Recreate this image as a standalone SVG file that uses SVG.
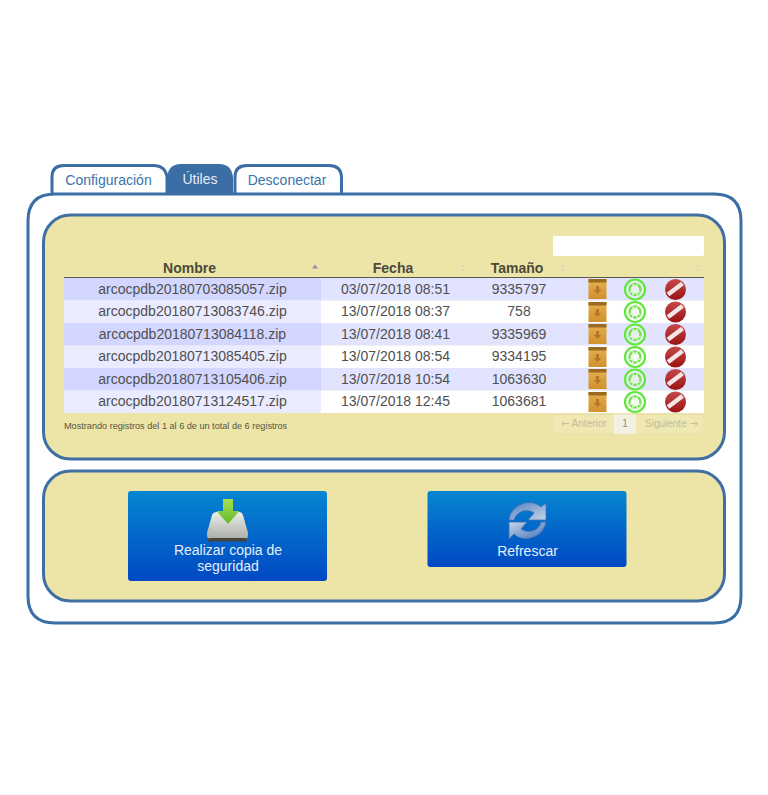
<svg xmlns="http://www.w3.org/2000/svg" xmlns:xlink="http://www.w3.org/1999/xlink" width="768" height="795" viewBox="0 0 768 795">
<style>
text{font-family:"Liberation Sans",Arial,sans-serif}
.tab{fill:#fff;stroke:#3a6ea5;stroke-width:3}
.panel{fill:#ede5a8;stroke:#3f6fa3;stroke-width:3}
.th{font-size:14px;font-weight:bold;fill:#4a4a3a;text-anchor:middle}
.td{font-size:14px;fill:#4f4f4f;text-anchor:middle}
.sort{fill:#dcd9bd}
.btn{font-size:14px;fill:#e6eefa;text-anchor:middle}
.pg{font-size:10px;fill:#bfbc9d}
.ar{font-family:"DejaVu Sans",sans-serif;font-size:10px}
</style>
<defs>
<linearGradient id="bg" x1="0" y1="0" x2="0" y2="1"><stop offset="0" stop-color="#0686d0"/><stop offset="1" stop-color="#0048c4"/></linearGradient>
<linearGradient id="box" x1="0" y1="0" x2="0" y2="1"><stop offset="0" stop-color="#e6b04e"/><stop offset="1" stop-color="#d0912e"/></linearGradient>
<linearGradient id="red" x1="0" y1="0" x2="0" y2="1"><stop offset="0" stop-color="#c44a4a"/><stop offset="1" stop-color="#9c1212"/></linearGradient>
<linearGradient id="disk" x1="0" y1="0" x2="0" y2="1"><stop offset="0" stop-color="#eceee8"/><stop offset="1" stop-color="#a9aca6"/></linearGradient>
<linearGradient id="arr" x1="0" y1="0" x2="0" y2="1"><stop offset="0" stop-color="#a8e050"/><stop offset="1" stop-color="#62ba2c"/></linearGradient>
<linearGradient id="rf" x1="0" y1="0" x2="1" y2="1"><stop offset="0" stop-color="#4f7fc0"/><stop offset="1" stop-color="#c6d6ea"/></linearGradient>
<linearGradient id="rf2" x1="1" y1="1" x2="0" y2="0"><stop offset="0" stop-color="#3f72b8"/><stop offset="1" stop-color="#c6d6ea"/></linearGradient>
<g id="ibox"><rect x="-9" y="-10" width="18" height="20" fill="url(#box)"/><rect x="-9" y="-10" width="18" height="3.500" fill="#9a6a20"/><path d="M-1.500-3h3v4h2.500l-4 4-4-4h2.500z" fill="#b5762a"/></g>
<g id="igreen"><circle r="10" fill="#f2fae6" fill-opacity=".45" stroke="#5fe83c" stroke-width="2.200"/><circle r="5.500" fill="none" stroke="#74e254" stroke-width="2.400"/><path d="M-2.500-5.500l2.500 3.500 2.500-3.500M-5.500 2.500l4-.5 -1 4M5.500 2.500l-4-.5 1 4" fill="none" stroke="#e2f6d6" stroke-width="1.300"/></g>
<g id="ired"><circle r="10.500" fill="url(#red)"/><path d="M-7.500 5L7 -6" stroke="#f4e6e6" stroke-width="4.500"/></g>
</defs>
<rect width="768" height="795" fill="#fff"/>
<g id="tabs">
<path id="tab-config" class="tab" d="M52 193V177Q52 165.500 64 165.500H153Q166 165.500 167 178V193"/>
<text x="108.500" y="184.500" font-size="14" fill="#3a74ad" text-anchor="middle">Configuración</text>
<path id="tab-utiles" d="M167 194V178Q168 164 181 164H219Q232 164 233 178V194Z" fill="#3a6ea5"/>
<text x="200" y="184" font-size="14" fill="#e4edf6" text-anchor="middle">Útiles</text>
<path id="tab-desc" class="tab" d="M235 193V177Q235 165.500 247 165.500H329Q341 165.500 341.500 177V193"/>
<text x="287" y="184.500" font-size="14" fill="#3a74ad" text-anchor="middle">Desconectar</text>
</g>
<path id="outer" d="M52 194H167M233 194H235M341 194H714Q741 194 741 221V596Q741 623 714 623H55Q28 623 28 596V221Q28 194 55 194Z" fill="none" stroke="#3a6ea5" stroke-width="3"/>
<rect id="panel-table" class="panel" x="43.500" y="215" width="681" height="244" rx="27"/>
<rect id="panel-actions" class="panel" x="43.500" y="471" width="681" height="130" rx="27"/>
<g id="table">
<rect x="553" y="236" width="151" height="20" rx="2" fill="#fff"/>
<text class="th" x="189.500" y="273">Nombre</text>
<text class="th" x="393" y="273">Fecha</text>
<text class="th" x="517" y="273">Tamaño</text>
<path d="M312 268.500l3-4 3 4z" fill="#8f8fc0"/>
<path class="sort" d="M461 267l2-2.500 2 2.500zM461 269l2 2.500 2-2.500zM561 267l2-2.500 2 2.500zM561 269l2 2.500 2-2.500zM696 267l2-2.500 2 2.500zM696 269l2 2.500 2-2.500z"/>
<rect x="64" y="278" width="640" height="22.500" fill="#e2e4ff"/>
<rect x="64" y="300.500" width="640" height="22.500" fill="#fff"/>
<rect x="64" y="323" width="640" height="22.500" fill="#e2e4ff"/>
<rect x="64" y="345.500" width="640" height="22.500" fill="#fff"/>
<rect x="64" y="368" width="640" height="22.500" fill="#e2e4ff"/>
<rect x="64" y="390.500" width="640" height="22.500" fill="#fff"/>
<rect x="64" y="278" width="257" height="22.500" fill="#d3d6ff"/>
<rect x="64" y="300.500" width="257" height="22.500" fill="#eaebff"/>
<rect x="64" y="323" width="257" height="22.500" fill="#d3d6ff"/>
<rect x="64" y="345.500" width="257" height="22.500" fill="#eaebff"/>
<rect x="64" y="368" width="257" height="22.500" fill="#d3d6ff"/>
<rect x="64" y="390.500" width="257" height="22.500" fill="#eaebff"/>
<line x1="64" y1="277.500" x2="704" y2="277.500" stroke="#5a5a48" stroke-width="1"/>
<g>
<text class="td" x="192.500" y="294">arcocpdb20180703085057.zip</text><text class="td" x="395.500" y="294">03/07/2018 08:51</text><text class="td" x="519" y="294">9335797</text>
<text class="td" x="192.500" y="316">arcocpdb20180713083746.zip</text><text class="td" x="395.500" y="316">13/07/2018 08:37</text><text class="td" x="519" y="316">758</text>
<text class="td" x="192.500" y="339">arcocpdb20180713084118.zip</text><text class="td" x="395.500" y="339">13/07/2018 08:41</text><text class="td" x="519" y="339">9335969</text>
<text class="td" x="192.500" y="361">arcocpdb20180713085405.zip</text><text class="td" x="395.500" y="361">13/07/2018 08:54</text><text class="td" x="519" y="361">9334195</text>
<text class="td" x="192.500" y="384">arcocpdb20180713105406.zip</text><text class="td" x="395.500" y="384">13/07/2018 10:54</text><text class="td" x="519" y="384">1063630</text>
<text class="td" x="192.500" y="406">arcocpdb20180713124517.zip</text><text class="td" x="395.500" y="406">13/07/2018 12:45</text><text class="td" x="519" y="406">1063681</text>
</g>
<use xlink:href="#ibox" href="#ibox" x="597.500" y="289"/><use href="#igreen" xlink:href="#igreen" x="635" y="289.500"/><use href="#ired" xlink:href="#ired" x="675.500" y="289.500"/>
<use xlink:href="#ibox" href="#ibox" x="597.500" y="312"/><use href="#igreen" xlink:href="#igreen" x="635" y="312"/><use href="#ired" xlink:href="#ired" x="675.500" y="312"/>
<use xlink:href="#ibox" href="#ibox" x="597.500" y="334"/><use href="#igreen" xlink:href="#igreen" x="635" y="334.500"/><use href="#ired" xlink:href="#ired" x="675.500" y="334.500"/>
<use xlink:href="#ibox" href="#ibox" x="597.500" y="357"/><use href="#igreen" xlink:href="#igreen" x="635" y="357"/><use href="#ired" xlink:href="#ired" x="675.500" y="357"/>
<use xlink:href="#ibox" href="#ibox" x="597.500" y="379"/><use href="#igreen" xlink:href="#igreen" x="635" y="379.500"/><use href="#ired" xlink:href="#ired" x="675.500" y="379.500"/>
<use xlink:href="#ibox" href="#ibox" x="597.500" y="402"/><use href="#igreen" xlink:href="#igreen" x="635" y="402"/><use href="#ired" xlink:href="#ired" x="675.500" y="402"/>
<text x="64" y="428.500" font-size="9.130" fill="#55553f">Mostrando registros del 1 al 6 de un total de 6 registros</text>
<rect x="552" y="414.500" width="152" height="19.500" rx="3" fill="#f0e8b2" stroke="#e6dea6"/>
<rect x="614" y="414.500" width="22" height="19.500" fill="#f3f1e2"/>
<text class="pg" x="561" y="426.500"><tspan class="ar">←</tspan> Anterior</text>
<text class="pg" x="625" y="427" text-anchor="middle" style="fill:#8a8a7c">1</text>
<text class="pg" x="645" y="426.500">Siguiente <tspan class="ar">→</tspan></text>
</g>
<g id="btn-backup">
<rect x="128" y="491" width="199" height="90" rx="3" fill="url(#bg)"/>
<path d="M217 512H239Q242 512 243 515L248 533Q248.500 540 244 540H211Q206.500 540 207 533L212 515Q213 512 217 512Z" fill="url(#disk)"/>
<rect x="208" y="538" width="39" height="3.500" rx="1.500" fill="#46463f"/>
<path d="M223 499H233V511H239.500L228 524L216.500 511H223Z" fill="url(#arr)"/>
<text class="btn" x="228" y="555">Realizar copia de</text>
<text class="btn" x="228" y="571">seguridad</text>
</g>
<g id="btn-refresh">
<rect x="427.500" y="491" width="199" height="76" rx="3" fill="url(#bg)"/>
<path d="M509 520C510 505 530 497 541 507L546 503V520H528L534 513C527 508 517 511 514 520Z" fill="url(#rf)" stroke="#3f6fb0" stroke-width=".8"/>
<path d="M546 522C544 537 524 544 514 534L509 539V522H527L521 529C528 534 539 531 541 522Z" fill="url(#rf2)" stroke="#3f6fb0" stroke-width=".8"/>
<text class="btn" x="527.500" y="556">Refrescar</text>
</g>
</svg>
